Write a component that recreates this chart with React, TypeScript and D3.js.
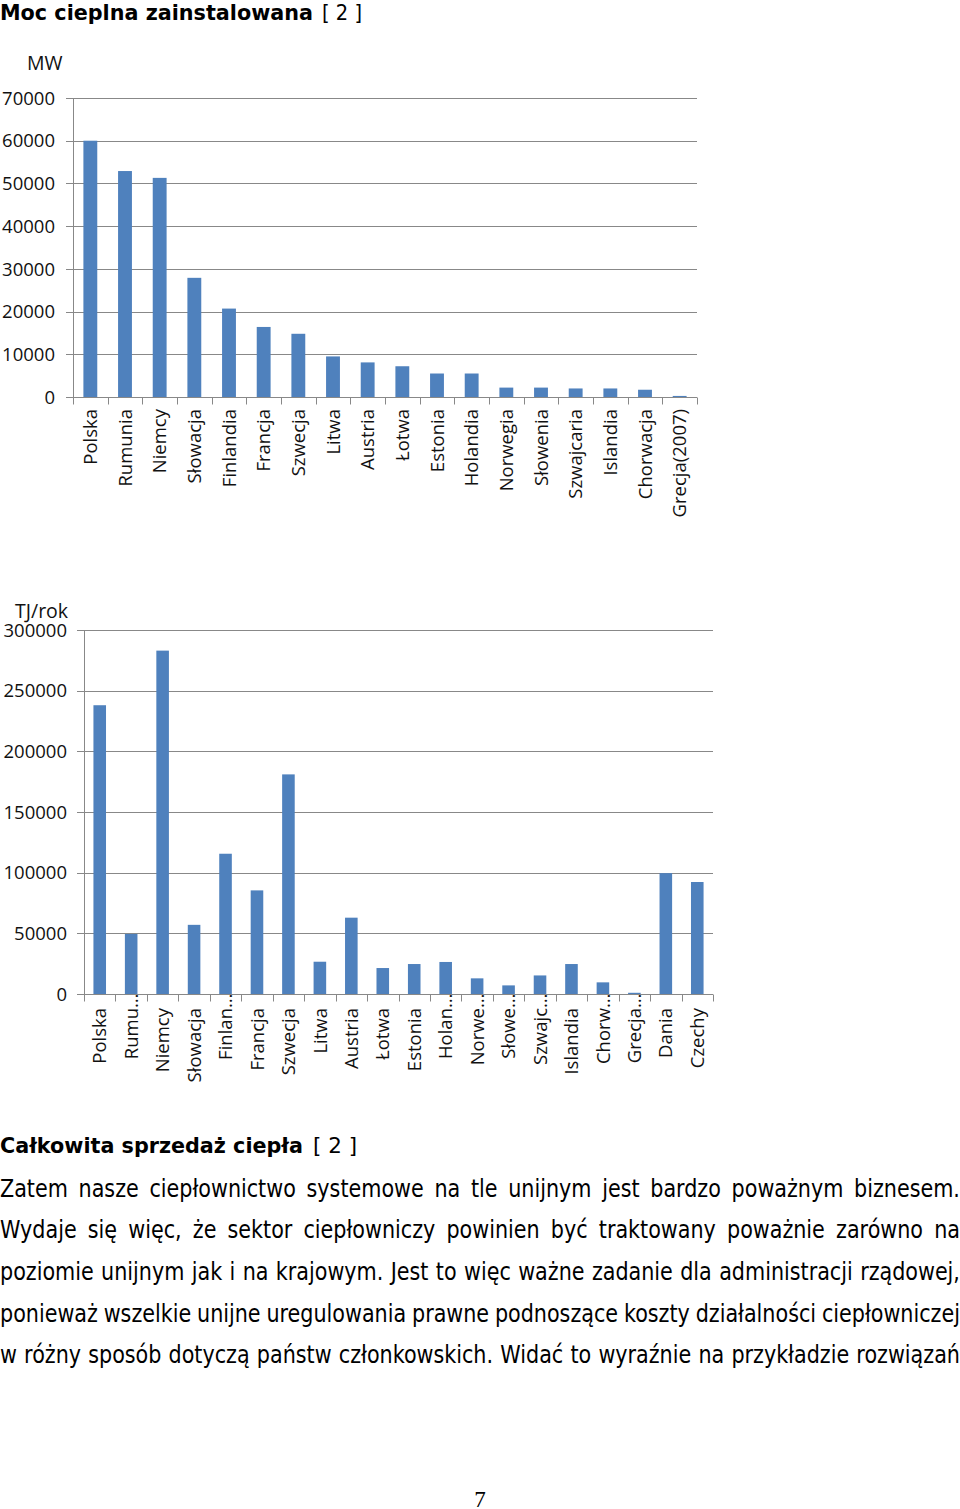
import React, { useEffect, useRef } from 'react';
import * as d3 from 'd3';

// chart 1: installed heat capacity
const countries1 = ['Polska', 'Rumunia', 'Niemcy', 'Słowacja', 'Finlandia', 'Francja', 'Szwecja', 'Litwa', 'Austria', 'Łotwa', 'Estonia', 'Holandia', 'Norwegia', 'Słowenia', 'Szwajcaria', 'Islandia', 'Chorwacja', 'Grecja(2007)'];
const capacityMW = [60000, 52900, 51300, 27900, 20700, 16400, 14800, 9500, 8100, 7200, 5500, 5500, 2200, 2200, 2000, 2000, 1700, 250];
const ticks1 = [0, 10000, 20000, 30000, 40000, 50000, 60000, 70000];

// chart 2: total heat sales
const countries2 = ['Polska', 'Rumu…', 'Niemcy', 'Słowacja', 'Finlan…', 'Francja', 'Szwecja', 'Litwa', 'Austria', 'Łotwa', 'Estonia', 'Holan…', 'Norwe…', 'Słowe…', 'Szwajc…', 'Islandia', 'Chorw…', 'Grecja…', 'Dania', 'Czechy'];
const salesTJ = [238000, 49500, 283000, 57000, 115600, 85400, 181000, 26600, 62900, 21400, 24700, 26400, 12900, 7100, 15300, 24700, 9600, 1000, 99600, 92300];
const ticks2 = [0, 50000, 100000, 150000, 200000, 250000, 300000];

const paragraph = [
  'Zatem nasze ciepłownictwo systemowe na tle unijnym jest bardzo poważnym biznesem.',
  'Wydaje się więc, że sektor ciepłowniczy powinien być traktowany poważnie zarówno na',
  'poziomie unijnym jak i na krajowym. Jest to więc ważne zadanie dla administracji rządowej,',
  'ponieważ wszelkie unijne uregulowania prawne podnoszące koszty działalności ciepłowniczej',
  'w różny sposób dotyczą państw członkowskich. Widać to wyraźnie na przykładzie rozwiązań',
];

const BLUE = '#4F81BD';
const GRID = '#888888';
const AXIS_FONT = "'Open Sans', sans-serif";

function drawChart(svg, opts) {
  const { cats, vals, ticks, x0, x1, yTop, yBottom, tickLabelRight, unit, unitX, unitY, labelY } = opts;
  const g = svg.append('g');

  const outer = d3.scaleBand().domain(cats).range([x0, x1]).padding(0);
  const inner = d3.scaleBand().domain(cats).range([x0, x1]).paddingInner(0.6).paddingOuter(0.3);
  const y = d3.scaleLinear().domain([0, d3.max(ticks)]).range([yBottom, yTop]);
  const crisp = v => Math.round(v) + 0.5;

  // gridlines + y ticks
  g.selectAll('.grid')
    .data(ticks)
    .join('line')
    .attr('x1', x0 - 7)
    .attr('x2', x1)
    .attr('y1', d => crisp(y(d)))
    .attr('y2', d => crisp(y(d)))
    .attr('stroke', GRID)
    .attr('stroke-width', 1);

  g.selectAll('.ylab')
    .data(ticks)
    .join('text')
    .attr('x', tickLabelRight)
    .attr('y', d => y(d))
    .attr('dy', '0.36em')
    .attr('text-anchor', 'end')
    .attr('font-family', AXIS_FONT)
    .attr('font-size', 18.5)
    .attr('fill', '#111')
    .text(d => d);

  // y axis line
  g.append('line')
    .attr('x1', crisp(x0)).attr('x2', crisp(x0))
    .attr('y1', crisp(y(d3.max(ticks)))).attr('y2', crisp(yBottom))
    .attr('stroke', GRID);

  // x ticks at band edges
  const edges = cats.map(c => outer(c)).concat([x1]);
  g.selectAll('.xtick')
    .data(edges)
    .join('line')
    .attr('x1', d => crisp(d)).attr('x2', d => crisp(d))
    .attr('y1', crisp(yBottom)).attr('y2', crisp(yBottom) + 7)
    .attr('stroke', GRID);

  // bars
  g.selectAll('.bar')
    .data(cats)
    .join('rect')
    .attr('x', (d) => inner(d))
    .attr('width', inner.bandwidth())
    .attr('y', (d, i) => y(vals[i]))
    .attr('height', (d, i) => y(0) - y(vals[i]))
    .attr('fill', BLUE);

  // category labels, rotated
  cats.forEach(c => {
    const cx = outer(c) + outer.bandwidth() / 2;
    const trunc = c.endsWith('…');
    const main = trunc ? c.slice(0, -1) : c;
    const t = g.append('text')
      .attr('transform', `translate(${cx},${labelY}) rotate(-90)`)
      .attr('dy', '0.36em')
      .attr('text-anchor', 'end')
      .attr('font-family', AXIS_FONT)
      .attr('font-size', 18.5)
      .attr('fill', '#111')
      .text(main);
    if (trunc) {
      g.append('text')
        .attr('transform', `translate(${cx},${labelY}) rotate(-90)`)
        .attr('dy', '0.36em')
        .attr('text-anchor', 'start')
        .attr('font-family', AXIS_FONT)
        .attr('font-size', 18.5)
        .attr('fill', '#111')
        .text('…');
    }
  });

  g.append('text')
    .attr('x', unitX)
    .attr('y', unitY)
    .attr('font-family', AXIS_FONT)
    .attr('font-size', 19.5)
    .attr('fill', '#111')
    .text(unit);
}

export default function App() {
  const svgRef = useRef(null);

  useEffect(() => {
    const svg = d3.select(svgRef.current);
    svg.selectAll('*').remove();

    // heading 1
    svg.append('text')
      .attr('x', 0).attr('y', 20)
      .attr('font-family', 'DejaVu Sans').attr('font-weight', 'bold').attr('font-size', 21)
      .attr('textLength', 313).attr('lengthAdjust', 'spacingAndGlyphs')
      .text('Moc cieplna zainstalowana');
    svg.append('text')
      .attr('x', 322).attr('y', 20)
      .attr('font-family', 'DejaVu Sans').attr('font-size', 21)
      .attr('textLength', 40).attr('lengthAdjust', 'spacingAndGlyphs')
      .text('[ 2 ]');

    drawChart(svg, {
      cats: countries1, vals: capacityMW, ticks: ticks1,
      x0: 73, x1: 697, yTop: 98, yBottom: 397,
      tickLabelRight: 55, unit: 'MW', unitX: 27, unitY: 69.5, labelY: 409,
    });

    drawChart(svg, {
      cats: countries2, vals: salesTJ, ticks: ticks2,
      x0: 84, x1: 713, yTop: 630, yBottom: 994,
      tickLabelRight: 67, unit: 'TJ/rok', unitX: 15, unitY: 617.5, labelY: 1008,
    });

    // heading 2
    svg.append('text')
      .attr('x', 0).attr('y', 1153)
      .attr('font-family', 'DejaVu Sans').attr('font-weight', 'bold').attr('font-size', 22)
      .attr('textLength', 303).attr('lengthAdjust', 'spacingAndGlyphs')
      .text('Całkowita sprzedaż ciepła');
    svg.append('text')
      .attr('x', 313).attr('y', 1153)
      .attr('font-family', 'DejaVu Sans').attr('font-size', 22)
      .attr('textLength', 44).attr('lengthAdjust', 'spacingAndGlyphs')
      .text('[ 2 ]');

    // justified paragraph
    const pg = svg.append('g').attr('font-family', 'DejaVu Sans').attr('font-size', 25).attr('fill', '#000');
    const measured = paragraph.map(line => {
      const words = line.split(/\s+/);
      const nodes = words.map(w => pg.append('text').text(w));
      const widths = nodes.map(n => n.node().getComputedTextLength());
      return { nodes, widths };
    });
    const sx = Math.min(1, d3.min(measured, m => 960 / (d3.sum(m.widths) + 7 * (m.widths.length - 1))));
    measured.forEach((m, i) => {
      const base = 1196.5 + i * 41.7;
      const total = sx * d3.sum(m.widths);
      const gap = (960 - total) / (m.widths.length - 1);
      let x = 0;
      m.nodes.forEach((n, j) => {
        n.attr('transform', `translate(${x},${base}) scale(${sx},1)`);
        x += sx * m.widths[j] + gap;
      });
    });

    // page number
    svg.append('text')
      .attr('x', 480).attr('y', 1507)
      .attr('text-anchor', 'middle')
      .attr('font-family', "'Liberation Serif', serif").attr('font-size', 23)
      .text('7');
  }, []);

  return (
    <div style={{ position: 'absolute', left: 0, top: 0, width: 960, height: 1509, background: '#fff' }}>
      <svg ref={svgRef} width={960} height={1509} style={{ display: 'block' }} />
    </div>
  );
}
